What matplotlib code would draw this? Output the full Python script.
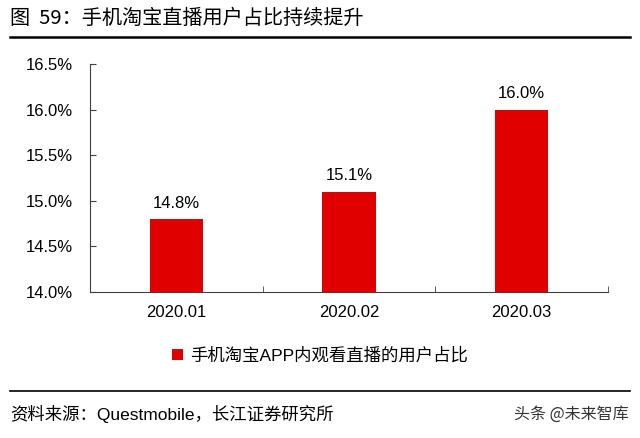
import matplotlib.pyplot as plt
import matplotlib.lines as mlines
import numpy as np

plt.rcParams['font.family'] = ['Liberation Sans', 'Noto Sans CJK SC', 'DejaVu Sans']

categories = ["2020.01", "2020.02", "2020.03"]
values = [14.8, 15.1, 16.0]
labels = ["14.8%", "15.1%", "16.0%"]
yticks = [14.0, 14.5, 15.0, 15.5, 16.0, 16.5]
series_name = "手机淘宝APP内观看直播的用户占比"

fig = plt.figure(figsize=(6.4, 4.38), dpi=100)
ax = fig.add_axes([0.1406, 0.3333, 0.809, 0.5207])

x = np.arange(len(categories))
bars = ax.bar(x, values, width=0.31, color="#e00000", label=series_name)
for xi, v, lab in zip(x, values, labels):
    ax.text(xi, v + 0.09, lab, ha="center", va="bottom", fontsize=12)

ax.set_ylim(14.0, 16.5)
ax.set_xlim(-0.5, 2.5)
ax.set_yticks(yticks)
ax.set_yticklabels([f"{t:.1f}%" for t in yticks], fontsize=12)
ax.set_xticks(x)
ax.set_xticklabels(categories, fontsize=12)
ax.tick_params(axis="x", length=0, pad=9)
ax.set_xticks([0.5, 1.5, 2.5], minor=True)
ax.tick_params(axis="x", which="minor", length=4, direction="in", color="#404040")
ax.tick_params(axis="y", length=4, direction="in", pad=12, color="#404040")
ax.spines["top"].set_visible(False)
ax.spines["right"].set_visible(False)
ax.spines["left"].set_color("#404040")
ax.spines["bottom"].set_color("#404040")

fig.legend(handles=[bars], labels=[series_name], loc="center",
           bbox_to_anchor=(0.5, 1 - 355 / 438), frameon=False,
           handlelength=0.6, handleheight=0.6, handletextpad=0.4,
           prop={"family": ["Liberation Sans", "Noto Sans CJK SC"], "size": 12.5})

# title and rules
fig.text(0.016, 1 - 18 / 438, "图  59：手机淘宝直播用户占比持续提升", fontsize=14.5,
         va="center", ha="left", family=["Noto Sans CJK SC", "DejaVu Sans"])
fig.add_artist(mlines.Line2D([0.016, 0.984], [1 - 37 / 438, 1 - 37 / 438],
                             color="black", lw=1.8))
fig.add_artist(mlines.Line2D([0.016, 0.984], [1 - 391 / 438, 1 - 391 / 438],
                             color="black", lw=1.2))
fig.text(0.016, 1 - 414 / 438, "资料来源：Questmobile，长江证券研究所", fontsize=12.5,
         va="center", ha="left", family=["Liberation Sans", "Noto Sans CJK SC"])
fig.text(0.982, 1 - 414 / 438, "头条 @未来智库", fontsize=11.5, color="#333333",
         va="center", ha="right", family=["Noto Sans CJK SC", "DejaVu Sans"])

plt.savefig("out.png", dpi=100)
